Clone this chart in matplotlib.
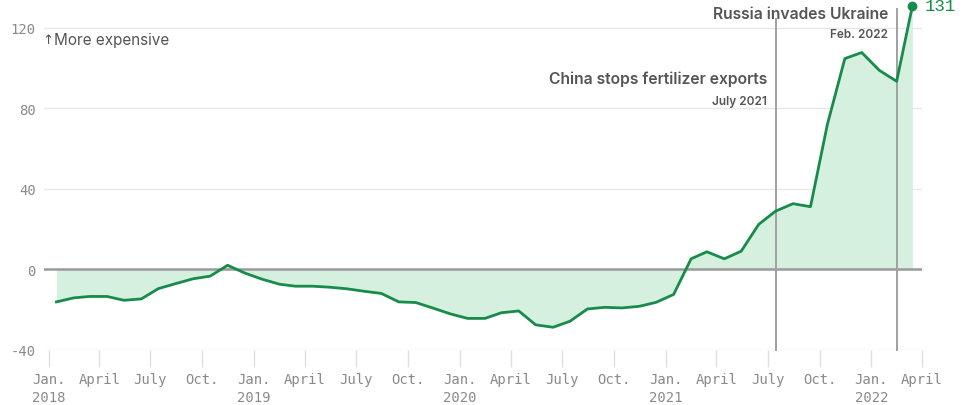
import matplotlib
matplotlib.use("Agg")
import matplotlib.pyplot as plt
import matplotlib.dates as mdates
import pandas as pd

# Monthly fertilizer price index, % change (mid-month observations)
months = pd.date_range("2018-01-01", periods=51, freq="MS") + pd.Timedelta(days=14)
values = [
    -16.1, -14.1, -13.4, -13.4, -15.3, -14.6, -9.5, -7.0, -4.6, -3.3,
    2.1, -1.7, -4.8, -7.3, -8.3, -8.3, -8.8, -9.6, -10.8, -11.9,
    -16.1, -16.4, -19.2, -22.0, -24.3, -24.3, -21.5, -20.6, -27.5, -28.7,
    -25.7, -19.6, -18.8, -19.1, -18.3, -16.3, -12.4, 5.3, 8.8, 5.3,
    9.1, 22.4, 29.0, 32.7, 31.2, 72.1, 104.8, 107.8, 99.0, 93.5,
    131.0,
]

# Quarterly tick labels
tick_dates = pd.date_range("2018-01-01", "2022-04-01", freq="QS")
month_names = {1: "Jan.", 4: "April", 7: "July", 10: "Oct."}
tick_labels = [
    f"{month_names[d.month]}\n{d.year}" if d.month == 1 else month_names[d.month]
    for d in tick_dates
]

y_ticks = [-40, 0, 40, 80, 120]

# Events marked with vertical rules
events = [
    {"date": pd.Timestamp("2021-07-15"), "title": "China stops fertilizer exports",
     "sub": "July 2021", "top": 124.5, "title_y": 95.2, "sub_y": 83.7},
    {"date": pd.Timestamp("2022-02-15"), "title": "Russia invades Ukraine",
     "sub": "Feb. 2022", "top": 129.4, "title_y": 127.0, "sub_y": 117.0},
]

LINE = "#178c4a"
FILL = "#d6f0e0"
TEXT = "#555555"
TICK = "#8a8a8a"
MONO = "DejaVu Sans Mono"
SANS = "Inter"

fig = plt.figure(figsize=(9.7, 4.06), dpi=100)
ax = fig.add_axes([44 / 970, 55 / 406, (922 - 44) / 970, 351 / 406])

x = mdates.date2num(months)
ax.fill_between(x, values, 0, color=FILL, linewidth=0, zorder=1)
ax.plot(x, values, color=LINE, linewidth=2.0, zorder=4, solid_joinstyle="round",
        clip_on=False)
ax.plot(x[-1], values[-1], "o", color=LINE, markersize=6, zorder=5, clip_on=False)
ax.annotate(f"{values[-1]:.0f}", (x[-1], values[-1]), xytext=(9, 0),
            textcoords="offset points", color=LINE, fontsize=12.5,
            family="Liberation Mono", va="center", ha="left", annotation_clip=False)

# gridlines
for yv in y_ticks:
    if yv == 0:
        ax.axhline(0, color="#9a9a9a", linewidth=1.8, zorder=3)
    else:
        ax.axhline(yv, color="#e8e8e8", linewidth=1.0, zorder=0)

ax.set_xlim(mdates.date2num(pd.Timestamp("2017-12-24")),
            mdates.date2num(pd.Timestamp("2022-04-01")))
ax.set_ylim(-40, 134.4)

# event rules and labels
for ev in events:
    xe = mdates.date2num(ev["date"])
    ax.plot([xe, xe], [-40, ev["top"]], color="#a0a0a0", linewidth=1.4, zorder=3,
            clip_on=False)
    ax.annotate(ev["title"], (xe, ev["title_y"]), xytext=(-6, 0),
                textcoords="offset points", ha="right", va="center", fontsize=11.3,
                fontweight="semibold", color=TEXT, family=SANS)
    ax.annotate(ev["sub"], (xe, ev["sub_y"]), xytext=(-6, 0),
                textcoords="offset points", ha="right", va="center", fontsize=8.5,
                fontweight="semibold", color=TEXT, family=SANS)

ax.text(-1.5 / 878, 114.2, "↑", transform=ax.get_yaxis_transform(),
        ha="left", va="center", fontsize=9.5, color=TEXT, family="DejaVu Sans")
ax.text(10 / 878, 114.2, "More expensive", transform=ax.get_yaxis_transform(),
        ha="left", va="center", fontsize=11, color=TEXT, family=SANS)

ax.set_xticks(mdates.date2num(tick_dates))
ax.set_xticklabels(tick_labels, family=MONO, fontsize=10, color=TICK, linespacing=1.3)
ax.tick_params(axis="x", length=12, width=1, color="#e0e0e0", pad=4)
ax.set_yticks(y_ticks)
ax.set_yticklabels([str(v) for v in y_ticks], family=MONO, fontsize=10, color=TICK)
ax.tick_params(axis="y", length=0, pad=6)

for s in ax.spines.values():
    s.set_visible(False)

fig.savefig("out.png", dpi=100)
